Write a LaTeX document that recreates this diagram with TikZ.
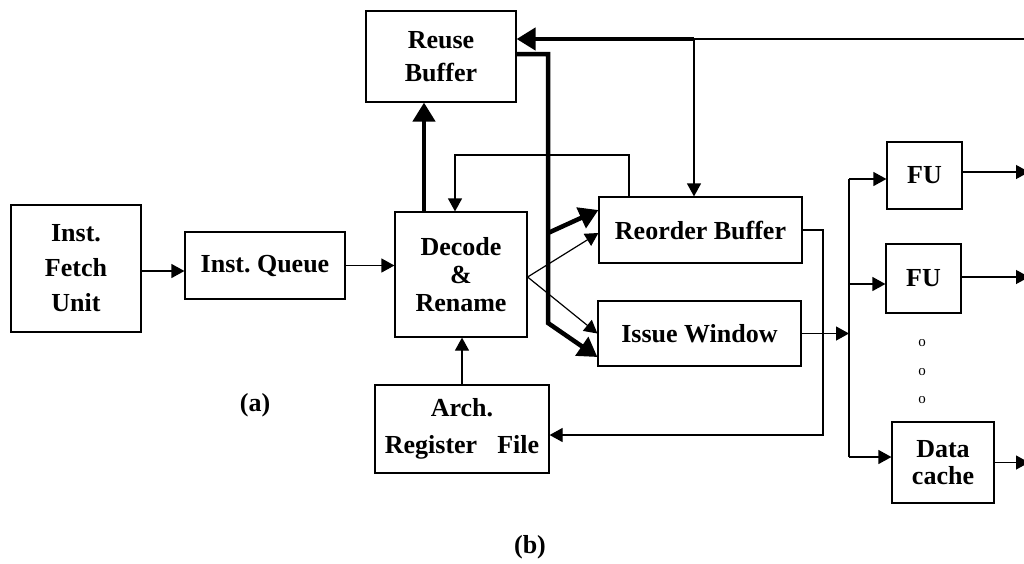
\documentclass[tikz,border=0pt]{standalone}
\usepackage{fontspec}
\setmainfont{Liberation Serif}
\usetikzlibrary{arrows.meta}
\frenchspacing
\begin{document}
\begin{tikzpicture}[x=1pt,y=-1pt,
  box/.style={draw,line width=1.2pt,inner sep=0pt,align=center,font=\fontsize{26}{#1}\selectfont\bfseries},
  box/.default=33,
  ln/.style={line width=1.2pt},
  arr/.style={ln,-{Triangle[length=13pt,width=14pt]}},
  tk/.style={line width=4.5pt},
  tkarr/.style={tk,-{Triangle[length=19pt,width=22pt]}},
  lbl/.style={font=\fontsize{26}{30}\selectfont\bfseries,inner sep=0pt},
  dot/.style={font=\fontsize{15}{15}\selectfont,inner sep=0pt}]
\clip (0,0) rectangle (1024,563);
% boxes
\node[box=35,minimum width=130pt,minimum height=127pt] (fetch) at (76,268.5) {Inst.\\Fetch\\Unit};
\node[box,minimum width=160pt,minimum height=67pt] (queue) at (265,265.5) {Inst.\ Queue};
\node[box=28,minimum width=132pt,minimum height=125pt] (decode) at (461,274.5) {Decode\\\&\\Rename};
\node[box=33,minimum width=150pt,minimum height=91pt] (reuse) at (441,56.5) {Reuse\\Buffer};
\node[box,minimum width=203pt,minimum height=66pt] (reorder) at (700.5,230) {Reorder Buffer};
\node[box,minimum width=203pt,minimum height=65pt] (issue) at (699.5,333.5) {Issue Window};
\node[box=37,minimum width=174pt,minimum height=88pt] (arch) at (462,429) {Arch.\\Register\hspace{20pt}File};
\node[box,minimum width=75pt,minimum height=67pt] (fu1) at (924.5,175.5) {FU};
\node[box,minimum width=75pt,minimum height=69pt] (fu2) at (923.5,278.5) {FU};
\node[box=27,minimum width=102pt,minimum height=81pt] (dcache) at (943,462.5) {Data\\cache};
% labels
\node[lbl] (la) at (255,405) {(a)};
\node[lbl] (lb) at (530,547) {(b)};
\node[dot] (d1) at (922,343) {o};
\node[dot] (d2) at (922,372) {o};
\node[dot] (d3) at (922,400) {o};
% coordinates
\coordinate (j) at (694,39);
\coordinate (tr) at (1030,39);
\coordinate (fb) at (0,155);
\coordinate (bend) at (548,323);
\coordinate (br) at (548,233);
\coordinate (rv) at (823,435);
\coordinate (bt) at (849,179);
\coordinate (b2) at (849,284);
\coordinate (bb) at (849,457);
\coordinate (re) at (1029,0);
% simple flow
\draw[arr] ([yshift=-2.5pt]fetch.east) -- ([yshift=-2.5pt]fetch.east -| queue.west);
\draw[arr] (queue.east) -- (queue.east -| decode.west);
\draw[arr] (arch.north) -- (arch.north |- decode.south);
% thick reuse paths
\draw[tkarr] ([xshift=-37pt]decode.north) -- ([xshift=-37pt]decode.north |- reuse.south);
\draw[tkarr] (j) -- ([yshift=17.5pt]reuse.east);
\draw[ln] (j) -- (tr);
\draw[arr] (j) -- (j |- reorder.north);
\draw[tkarr] ([yshift=2.5pt]reuse.east) -| (bend) -- ([yshift=-23.5pt]issue.west);
\draw[tkarr] (br) -- ([yshift=20pt]reorder.west);
% feedback reorder -> decode
\draw[arr] ([xshift=-71.5pt]reorder.north) |- ([xshift=-6pt]decode.north |- fb) -- ([xshift=-6pt]decode.north);
% fan out of decode
\draw[arr] ([yshift=-2.5pt]decode.east) -- ([yshift=-3pt]reorder.west);
\draw[arr] ([yshift=-2.5pt]decode.east) -- (issue.west);
% reorder -> arch
\draw[arr] (reorder.east) -| (rv) -- (rv -| arch.east);
% issue -> bus
\draw[arr] (issue.east) -- (issue.east -| bt);
\draw[ln] (bt) -- (bb);
\draw[arr] (bt) -- (fu1.west |- bt);
\draw[arr] (b2) -- (fu2.west |- b2);
\draw[arr] (bb) -- (dcache.west |- bb);
% outputs
\draw[arr] ([yshift=3.5pt]fu1.east) -- ([yshift=3.5pt]fu1.east -| re);
\draw[arr] ([yshift=1.5pt]fu2.east) -- ([yshift=1.5pt]fu2.east -| re);
\draw[arr] (dcache.east) -- (dcache.east -| re);
\end{tikzpicture}
\end{document}
